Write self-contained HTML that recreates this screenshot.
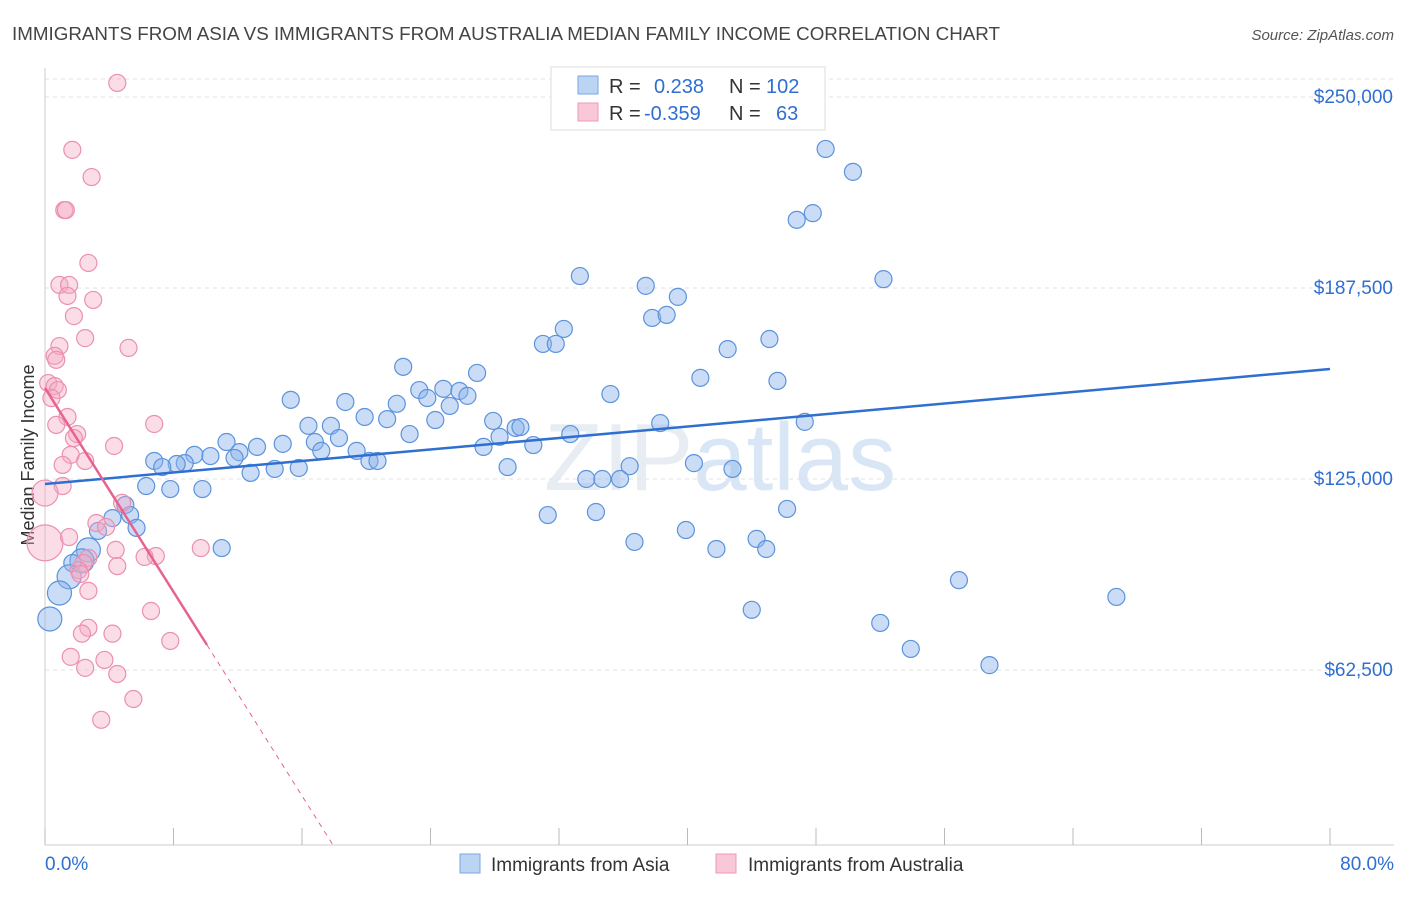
<!DOCTYPE html>
<html><head><meta charset="utf-8"><style>
body{margin:0;background:#fff;font-family:"Liberation Sans",sans-serif}
svg text{font-family:"Liberation Sans",sans-serif}
</style></head><body>
<svg id="c" width="1406" height="892">
<text x="12" y="40" font-size="18" fill="#444" textLength="988" lengthAdjust="spacingAndGlyphs">IMMIGRANTS FROM ASIA VS IMMIGRANTS FROM AUSTRALIA MEDIAN FAMILY INCOME CORRELATION CHART</text>
<text x="1394" y="40" font-size="15" fill="#555" text-anchor="end" font-style="italic">Source: ZipAtlas.com</text>
<text x="720" y="490" font-size="96" fill="#e8edf3" text-anchor="middle" font-family="Liberation Serif">ZIP<tspan fill="#d8e6f5" font-family="Liberation Sans">atlas</tspan></text>
<text x="34" y="455" font-size="18" fill="#333" text-anchor="middle" transform="rotate(-90 34 455)">Median Family Income</text>
<g id="grid"></g><g id="marks"></g>
<g>
<rect x="551" y="67" width="274" height="63" fill="#fff" stroke="#ddd"/>
<rect x="578" y="76" width="20" height="18" fill="#bcd4f3" stroke="#7aa6e0"/>
<rect x="578" y="103" width="20" height="18" fill="#f9c8d8" stroke="#ee9ab5"/>
<text x="609" y="93" font-size="20" fill="#333">R = <tspan fill="#2f6fd0" x="654">0.238</tspan><tspan x="729" fill="#333">N =</tspan><tspan x="766" fill="#2f6fd0">102</tspan></text>
<text x="609" y="120" font-size="20" fill="#333">R = <tspan fill="#2f6fd0" x="644">-0.359</tspan><tspan x="729" fill="#333">N =</tspan><tspan x="776" fill="#2f6fd0">63</tspan></text>
</g>
<g>
<rect x="460" y="854" width="20" height="19" fill="#bcd4f3" stroke="#7aa6e0"/>
<text x="491" y="871" font-size="19" fill="#333">Immigrants from Asia</text>
<rect x="716" y="854" width="20" height="19" fill="#f9c8d8" stroke="#ee9ab5"/>
<text x="748" y="871" font-size="19" fill="#333">Immigrants from Australia</text>
</g>
</svg>
<script>
const yTicks=[62500,125000,187500,250000];
const yTickLabels=["$62,500","$125,000","$187,500","$250,000"];
const xLabels=["0.0%","80.0%"];
const asiaX=[48.6,50.3,46.8,47.8,33.3,52.2,37.4,39.4,37.8,38.7,32.3,31.0,31.8,45.1,42.5,22.3,26.9,40.8,45.6,35.2,23.3,24.8,25.8,26.3,23.8,25.2,15.3,18.7,21.9,19.9,21.3,24.3,16.4,17.8,27.9,38.3,47.3,29.3,29.6,22.7,32.7,18.3,16.8,28.3,11.3,14.8,13.2,17.2,27.3,30.4,19.4,12.1,9.3,10.3,11.8,6.8,8.7,8.2,7.3,20.2,20.7,15.8,14.3,12.8,28.8,40.4,36.4,42.8,33.7,34.7,35.8,6.3,7.8,9.8,5.0,5.3,4.2,3.3,5.7,31.3,34.3,46.2,39.9,36.7,44.3,41.8,44.9,11.0,2.7,2.3,1.7,1.5,0.9,0.3,56.9,66.7,44.0,52.0,53.9,58.8];
const asiaY=[233.0,225.5,209.8,212.0,191.4,190.4,188.2,184.6,177.7,178.7,174.1,169.2,169.2,170.8,167.5,161.7,159.7,158.1,157.1,152.8,154.1,154.5,153.8,152.2,151.5,148.9,150.9,150.2,149.6,145.3,144.6,144.3,142.4,142.4,144.0,143.3,143.7,141.7,142.0,139.7,139.7,138.4,137.1,138.8,137.1,136.5,135.5,134.2,135.5,136.1,134.2,133.8,132.9,132.5,131.9,130.9,130.2,129.9,128.9,130.9,130.9,128.6,128.3,127.0,128.9,130.2,129.2,128.3,125.0,125.0,125.0,122.7,121.7,121.7,116.5,113.2,112.2,108.0,109.0,113.2,114.2,115.2,108.3,104.4,105.4,102.1,102.1,102.4,101.8,98.2,97.5,93.0,87.7,79.2,91.9,86.4,82.2,77.9,69.4,64.1];
const ausX=[4.5,1.7,2.9,1.2,1.3,2.7,0.9,1.5,1.4,3.0,1.8,2.5,5.2,0.9,0.6,0.7,0.2,0.6,0.8,0.4,1.4,6.8,0.7,2.0,1.8,4.3,1.6,2.5,1.1,1.1,0.0,4.8,3.2,3.8,0.0,1.5,4.4,6.9,6.2,9.7,2.7,4.5,2.4,2.1,2.2,2.7,6.6,2.7,2.3,4.2,7.8,1.6,3.7,2.5,4.5,5.5,3.5];
const ausY=[254.6,232.7,223.8,213.0,213.0,195.7,188.5,188.5,184.9,183.6,178.3,171.1,167.9,168.5,165.3,164.0,156.4,155.4,154.1,151.5,145.3,143.0,142.7,139.7,138.4,135.8,132.9,130.9,129.6,122.7,120.4,117.2,110.6,109.3,104.1,106.0,101.8,99.8,99.5,102.4,99.2,96.5,97.5,95.2,93.9,88.4,81.8,76.3,74.4,74.4,72.0,66.8,65.8,63.2,61.2,53.0,46.2];
const bigAsia=[88,89,91,92,93];
const bigAus=[30,34];
const sx=v=>45+v/80*1285;
const sy=v=>97+(250-v)/62.5*191;
const NS="http://www.w3.org/2000/svg";
const g=document.getElementById('grid'),m=document.getElementById('marks');
function mk(p,tag,a){const e=document.createElementNS(NS,tag);for(const k in a)e.setAttribute(k,a[k]);p.appendChild(e);return e;}
yTicks.forEach((t,i)=>{
 const l=mk(g,'line',{x1:45,x2:1394,y1:sy(t/1000),y2:sy(t/1000),stroke:'#e2e2e2','stroke-dasharray':'4 4'});
 
 
 const tx=mk(g,'text',{x:1393,y:sy(t/1000)+6,'font-size':19,fill:'#2f6fd0','text-anchor':'end'});
 tx.textContent=yTickLabels[i];
 
 
});
mk(g,'line',{x1:45,x2:1394,y1:79,y2:79,stroke:'#e2e2e2','stroke-dasharray':'4 4'});
mk(g,'line',{x1:45,x2:45,y1:68,y2:845,stroke:'#ccc'});
mk(g,'line',{x1:45,x2:1394,y1:845,y2:845,stroke:'#ccc'});
for(let i=0;i<=10;i++){mk(g,'line',{x1:sx(i*8),x2:sx(i*8),y1:828,y2:845,stroke:'#bbb'});}
[[0,'start',45],[1,'end',1394]].forEach(([i,a,x])=>{const t=mk(g,'text',{x:x,y:870,'font-size':19,fill:'#2f6fd0','text-anchor':a});t.textContent=xLabels[i];
 
 });
asiaX.forEach((x,i)=>{const c=mk(m,'circle',{cx:sx(x),cy:sy(asiaY[i]),r:bigAsia.includes(i)?12:8.5,fill:'rgba(140,180,235,0.45)',stroke:'#5b93dc','stroke-width':1.2});
 
 });
ausX.forEach((x,i)=>{const c=mk(m,'circle',{cx:sx(x),cy:sy(ausY[i]),r:bigAus.includes(i)?(i==34?18:13):8.5,fill:'rgba(245,170,195,0.4)',stroke:'#ec8fb0','stroke-width':1.2});
 
 });
const bt=mk(m,'line',{x1:sx(0),y1:484,x2:sx(80),y2:369,stroke:'#2f6fd0','stroke-width':2.5});


const pt=mk(m,'line',{x1:45,y1:388,x2:207,y2:645,stroke:'#e8628f','stroke-width':2.5});


mk(m,'line',{x1:207,y1:645,x2:333,y2:845,stroke:'#e8628f','stroke-width':1,'stroke-dasharray':'5 5'});
</script>
</body></html>
